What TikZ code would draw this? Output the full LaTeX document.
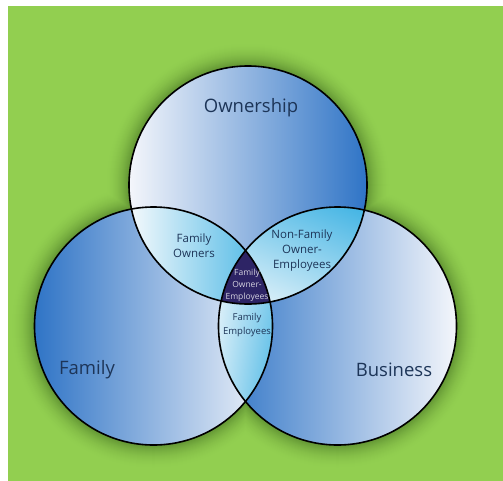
\documentclass[tikz,border=0pt]{standalone}
\usepackage{fontspec}
\setmainfont{Open Sans}
\usetikzlibrary{positioning,shadings}

\definecolor{bggreen}{HTML}{92CF50}
\definecolor{glow}{HTML}{3F6A1E}
\definecolor{deepblue}{HTML}{2F74C6}
\definecolor{paleblue}{HTML}{F4F6FB}
\definecolor{lenscyan}{HTML}{3DB2E3}
\definecolor{lenspale}{HTML}{F4F9FC}
\definecolor{core}{HTML}{2D2465}
\definecolor{labelink}{HTML}{1D3558}

\tikzset{
	ring/.style = {draw = black, line width = 1.6pt},
	biglabel/.style = {text = labelink, font = \fontsize{18.5}{20}\selectfont},
	smalllabel/.style = {text = labelink, align = center, font = \fontsize{11.5}{15}\selectfont},
	corelabel/.style = {text = white!80!core, align = center, font = \fontsize{8.5}{12}\selectfont},
}

\begin{document}
\begin{tikzpicture}[x = 1pt, y = -1pt]
\def\r{119pt}
\useasboundingbox (0, 0) rectangle (503, 480);
\fill [white] (0, 0) rectangle (503, 480);
\fill [bggreen] (8, 6) rectangle (515, 490);

\coordinate (own) at (248, 185);
\coordinate (fam) at (153.5, 326);
\coordinate (bus) at (337.5, 326);

% soft shadow round the three circles
\foreach \i in {24,23,...,1}{
	\pgfmathsetmacro{\t}{60*(1-\i/25)^2}
	\fill [glow!\t!bggreen, xshift = 1.5pt, yshift = -2pt] (own) circle [radius = \r + \i pt];
	\fill [glow!\t!bggreen, xshift = 1.5pt, yshift = -2pt] (fam) circle [radius = \r + \i pt];
	\fill [glow!\t!bggreen, xshift = 1.5pt, yshift = -2pt] (bus) circle [radius = \r + \i pt];
}

\shade [left color = paleblue, right color = deepblue] (own) circle [radius = \r];
\shade [left color = deepblue, right color = paleblue] (fam) circle [radius = \r];
\shade [left color = deepblue, right color = paleblue] (bus) circle [radius = \r];

% two-way overlaps
\begin{scope}
	\clip (own) circle [radius = \r];
	\clip (fam) circle [radius = \r];
	\shade [left color = lenspale, right color = lenscyan] (130, 205) rectangle (275, 305);
\end{scope}
\begin{scope}
	\clip (own) circle [radius = \r];
	\clip (bus) circle [radius = \r];
	\shade [lower left = lenspale, upper right = lenscyan,
		upper left = lenspale!40!lenscyan, lower right = lenspale!60!lenscyan] (218, 205) rectangle (368, 305);
\end{scope}
\begin{scope}
	\clip (fam) circle [radius = \r];
	\clip (bus) circle [radius = \r];
	\shade [upper left = lenspale, lower right = lenscyan,
		upper right = lenspale!50!lenscyan, lower left = lenspale!70!lenscyan] (217, 205) rectangle (275, 446);
\end{scope}
% centre
\begin{scope}
	\clip (own) circle [radius = \r];
	\clip (fam) circle [radius = \r];
	\fill [core] (bus) circle [radius = \r];
\end{scope}

\draw [ring] (own) circle [radius = \r];
\draw [ring] (fam) circle [radius = \r];
\draw [ring] (bus) circle [radius = \r];

\node [biglabel] (ownlbl) at (251, 108) {Ownership};
\node [biglabel] (famlbl) at (87, 370) {Family};
\node [biglabel] (buslbl) at (394, 370) {Business};
\node [smalllabel] (folbl) at (194, 246) {Family\\Owners};
\node [smalllabel] (nfolbl) at (302, 251) {Non-Family\\Owner-\\Employees};
\node [corelabel] (corelbl) at (247, 285) {Family\\Owner-\\Employees};
\node [smalllabel, font = \fontsize{9.5}{14}\selectfont] (felbl) at (247, 325) {Family\\Employees};

\end{tikzpicture}
\end{document}
